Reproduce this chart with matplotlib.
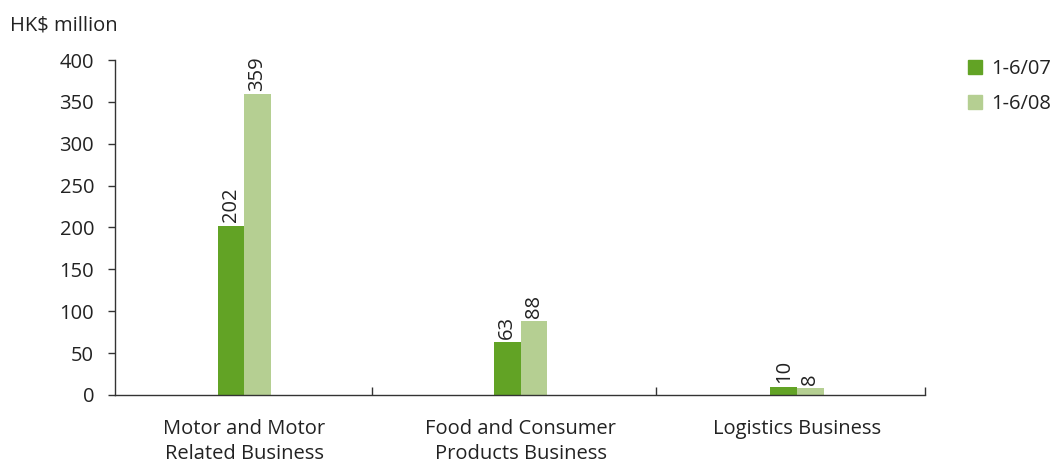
import numpy as np
import matplotlib.pyplot as plt
from matplotlib.patches import Patch

plt.rcParams['font.family'] = ['Open Sans', 'DejaVu Sans']

categories = ['Motor and Motor\nRelated Business',
              'Food and Consumer\nProducts Business',
              'Logistics Business']
series = ['1-6/07', '1-6/08']
v07 = [202, 63, 10]
v08 = [359, 88, 8]
yticks = [0, 50, 100, 150, 200, 250, 300, 350, 400]

dark = '#62a325'
light = '#b5cf92'
txt = '#222222'
fs = 14.5

fig = plt.figure(figsize=(10.53, 4.63), dpi=100)
ax = fig.add_axes([0.1092, 0.1469, 0.7692, 0.7235])

x = np.arange(len(categories))
w = 0.096
b1 = ax.bar(x - w / 2, v07, w, color=dark, zorder=2)
b2 = ax.bar(x + w / 2, v08, w, color=light, zorder=2)

for bars, vals in ((b1, v07), (b2, v08)):
    for r, v in zip(bars, vals):
        ax.text(r.get_x() + r.get_width() / 2, v + 4, str(v), rotation=90,
                ha='center', va='bottom', fontsize=fs, color=txt)

ax.set_xlim(-0.467, 2.463)
ax.set_ylim(0, 400)
ax.set_yticks(yticks)
ax.tick_params(axis='y', direction='out', length=5, width=1, color='#333333',
               labelsize=fs, labelcolor=txt, pad=10)
ax.set_xticks(x)
ax.set_xticklabels(categories, fontsize=fs, color=txt, linespacing=1.35)
ax.tick_params(axis='x', length=0, pad=17)
# category boundary ticks pointing up
ax.set_xticks([0.463, 1.49, 2.463], minor=True)
ax.tick_params(axis='x', which='minor', direction='in', length=6, width=1,
               color='#333333')

for s in ['top', 'right']:
    ax.spines[s].set_visible(False)
for s in ['left', 'bottom']:
    ax.spines[s].set_color('#333333')
    ax.spines[s].set_linewidth(1)

fig.text(10 / 1053, 1 - 25 / 463, 'HK$ million', fontsize=fs, color=txt,
         va='center', ha='left')

handles = [Patch(color=dark), Patch(color=light)]
fig.legend(handles, series, loc='upper left', bbox_to_anchor=(0.902, 0.912),
           frameon=False, fontsize=fs, handlelength=0.7, handleheight=0.7,
           handletextpad=0.45, labelspacing=0.75, labelcolor=txt)

fig.savefig('out.png', dpi=100)
